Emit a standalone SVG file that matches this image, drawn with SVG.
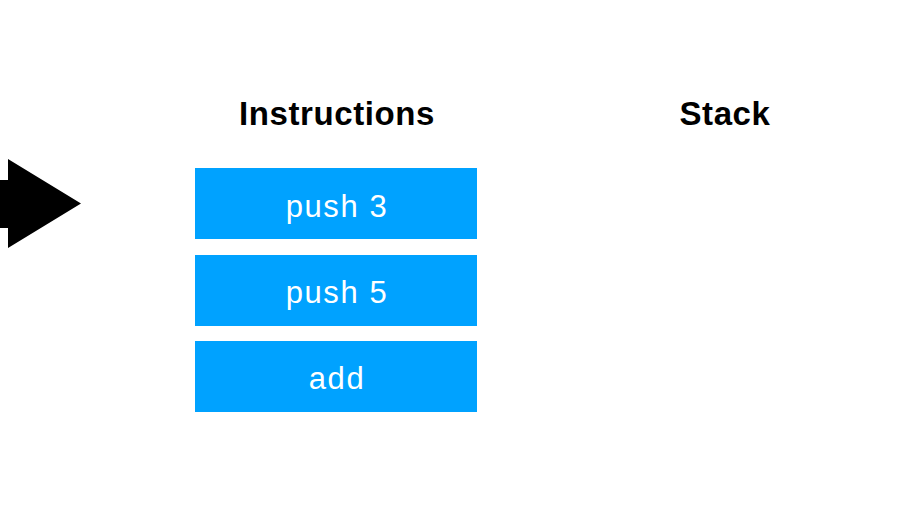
<svg xmlns="http://www.w3.org/2000/svg" width="921" height="532" viewBox="0 0 921 532">
<style>
.title{font-family:"Liberation Sans",Arial,sans-serif;font-weight:bold;font-size:33px;letter-spacing:0.6px;fill:#000;text-anchor:middle}
.box{fill:#00A2FF}
.lbl{font-family:"Liberation Sans",Arial,sans-serif;font-size:31px;letter-spacing:1.6px;fill:#fff;text-anchor:middle}
</style>
<rect width="921" height="532" fill="#fff"/>
<g id="pointer">
<polygon points="0,180 8,180 8,159 81,203.5 8,248 8,228 0,228" fill="#000"/>
</g>
<g id="title-instructions"><text class="title" x="337" y="125">Instructions</text></g>
<g id="title-stack"><text class="title" x="725" y="125">Stack</text></g>
<g id="instr-push3"><rect class="box" x="195" y="168" width="282" height="71"/><text class="lbl" x="337" y="217">push 3</text></g>
<g id="instr-push5"><rect class="box" x="195" y="255" width="282" height="71"/><text class="lbl" x="337" y="303">push 5</text></g>
<g id="instr-add"><rect class="box" x="195" y="341" width="282" height="71"/><text class="lbl" x="337" y="389">add</text></g>
<g id="connectors"/>
</svg>
